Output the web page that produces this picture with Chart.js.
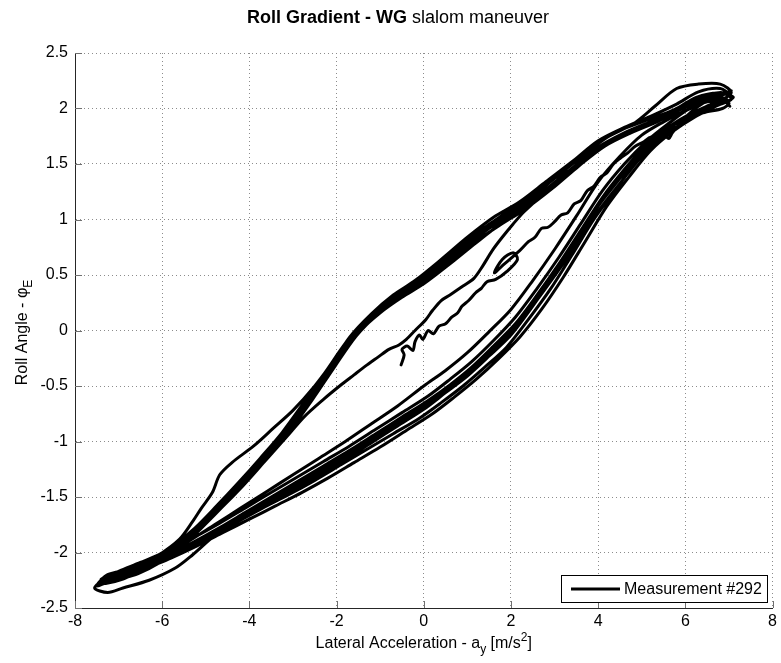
<!DOCTYPE html>
<html>
<head>
<meta charset="utf-8">
<title>Roll Gradient - WG slalom maneuver</title>
<script src="https://cdn.jsdelivr.net/npm/chart.js@4.4.1/dist/chart.umd.min.js"></script>
<style>
  html, body { margin: 0; padding: 0; background: #fff; }
  #wrap { width: 781px; height: 663px; }
</style>
</head>
<body>
<div id="wrap"><canvas id="rollChart" width="781" height="663"></canvas></div>
<script>
// ============================================
// Roll gradient plot — lateral acceleration vs roll angle
// ============================================

const FONT = '"Liberation Sans", Arial, Helvetica, sans-serif';

// ---------- Axis ticks ----------
const xTicks = [-8, -6, -4, -2, 0, 2, 4, 6, 8];
const yTicks = [-2.5, -2, -1.5, -1, -0.5, 0, 0.5, 1, 1.5, 2, 2.5];

const seriesLabel = 'Measurement #292';

// ---------- Measurement trace, [a_y, phi] ----------
// run-in from standstill, wiggly climb to the first right-hand peak
const runIn = [
  [-0.52, -0.31], [-0.45, -0.22], [-0.5, -0.17], [-0.38, -0.14], [-0.25, -0.18], [-0.2, -0.1],
  [-0.1, -0.04], [-0.02, -0.08], [0.1, 0.0], [0.22, -0.03], [0.35, 0.04], [0.5, 0.06],
  [0.64, 0.12], [0.78, 0.16], [0.88, 0.22], [1.03, 0.27], [1.19, 0.34], [1.32, 0.38],
  [1.45, 0.44], [1.65, 0.46], [1.9, 0.53], [2.15, 0.64], [2.05, 0.7], [1.8, 0.64],
  [1.62, 0.52], [1.85, 0.6], [2.2, 0.72], [2.4, 0.8], [2.55, 0.84], [2.7, 0.92],
  [2.85, 0.93], [3.0, 0.98], [3.15, 1.04], [3.3, 1.06], [3.45, 1.14], [3.6, 1.17],
  [3.75, 1.26], [3.9, 1.3], [4.05, 1.38], [4.2, 1.42], [4.35, 1.5], [4.5, 1.55],
  [4.68, 1.6], [4.85, 1.66], [5.05, 1.7], [5.2, 1.74], [5.35, 1.7], [5.5, 1.76],
  [5.62, 1.73], [5.7, 1.78], [5.95, 1.9], [6.3, 2.02], [6.7, 2.1], [6.95, 2.08]
];

// slalom cycles: right peak -> left peak (lower branch) -> right peak (upper branch)
const cycle1 = [
  [6.5, 2.06], [6.0, 1.98], [5.5, 1.88], [5.0, 1.76], [4.5, 1.57], [4.0, 1.34], [3.5, 1.03],
  [3.0, 0.73], [2.5, 0.45], [2.0, 0.19], [1.5, -0.01], [1.0, -0.2], [0.5, -0.36], [0.0, -0.5],
  [-0.6, -0.68], [-1.2, -0.84], [-1.8, -1.0], [-2.4, -1.15], [-3.0, -1.3], [-3.6, -1.45],
  [-4.2, -1.6], [-4.8, -1.75], [-5.4, -1.9], [-6.0, -2.03], [-6.6, -2.13], [-7.1, -2.21],
  [-7.45, -2.29], [-7.2, -2.26], [-6.7, -2.19], [-6.2, -2.09], [-5.7, -1.95], [-5.2, -1.77],
  [-4.7, -1.6], [-4.2, -1.38], [-3.7, -1.16], [-3.2, -0.91], [-2.7, -0.64], [-2.2, -0.36],
  [-1.7, -0.06], [-1.2, 0.15], [-0.7, 0.32], [-0.2, 0.45], [0.4, 0.64], [1.0, 0.84],
  [1.6, 1.02], [2.2, 1.16], [2.8, 1.34], [3.4, 1.52], [4.0, 1.71], [4.6, 1.83], [5.2, 1.93],
  [5.8, 2.04], [6.3, 2.15], [6.8, 2.18], [7.0, 2.12]
];

const cycle2 = [
  [6.6, 2.04], [6.1, 1.95], [5.6, 1.83], [5.1, 1.67], [4.6, 1.45], [4.1, 1.2], [3.6, 0.9],
  [3.1, 0.6], [2.6, 0.32], [2.1, 0.06], [1.6, -0.14], [1.1, -0.33], [0.6, -0.49], [0.1, -0.63],
  [-0.5, -0.78], [-1.1, -0.93], [-1.7, -1.08], [-2.3, -1.22], [-2.9, -1.36], [-3.5, -1.5],
  [-4.1, -1.64], [-4.7, -1.78], [-5.3, -1.91], [-5.9, -2.03], [-6.5, -2.13], [-7.0, -2.2],
  [-7.35, -2.27], [-7.0, -2.22], [-6.5, -2.16], [-6.0, -2.06], [-5.5, -1.91], [-5.0, -1.73],
  [-4.5, -1.54], [-4.0, -1.33], [-3.5, -1.1], [-3.0, -0.85], [-2.5, -0.58], [-2.0, -0.29],
  [-1.5, -0.02], [-1.0, 0.16], [-0.5, 0.3], [0.0, 0.42], [0.6, 0.6], [1.2, 0.79],
  [1.8, 0.97], [2.4, 1.12], [3.0, 1.3], [3.6, 1.5], [4.2, 1.68], [4.8, 1.8], [5.4, 1.9],
  [6.0, 2.02], [6.5, 2.12], [6.9, 2.14], [7.05, 2.08]
];

const cycle3 = [
  [6.5, 2.0], [6.0, 1.92], [5.5, 1.78], [5.0, 1.61], [4.5, 1.37], [4.0, 1.12], [3.5, 0.8],
  [3.0, 0.5], [2.5, 0.22], [2.0, -0.04], [1.5, -0.23], [1.0, -0.41], [0.5, -0.56], [0.0, -0.71],
  [-0.6, -0.86], [-1.2, -1.01], [-1.8, -1.16], [-2.4, -1.3], [-3.0, -1.43], [-3.6, -1.56],
  [-4.2, -1.7], [-4.8, -1.85], [-5.3, -2.02], [-5.7, -2.14], [-6.3, -2.25], [-6.9, -2.32],
  [-7.25, -2.36], [-7.55, -2.32], [-7.3, -2.24], [-6.8, -2.2], [-6.3, -2.12], [-5.8, -1.99],
  [-5.3, -1.82], [-4.8, -1.63], [-4.3, -1.43], [-3.8, -1.21], [-3.3, -0.98], [-2.8, -0.72],
  [-2.3, -0.44], [-1.8, -0.15], [-1.3, 0.07], [-0.8, 0.24], [-0.3, 0.36], [0.3, 0.53],
  [0.9, 0.74], [1.5, 0.92], [2.1, 1.07], [2.7, 1.24], [3.3, 1.43], [3.9, 1.62], [4.5, 1.76],
  [5.1, 1.86], [5.7, 1.96], [6.2, 2.06], [6.7, 2.1], [7.0, 2.05]
];

const cycle4 = [
  [6.85, 2.0], [6.4, 1.96], [5.9, 1.86], [5.4, 1.72], [4.9, 1.53], [4.4, 1.27], [3.9, 1.0],
  [3.4, 0.68], [2.9, 0.37], [2.4, 0.1], [1.9, -0.15], [1.4, -0.33], [0.9, -0.5], [0.4, -0.65],
  [-0.1, -0.79], [-0.7, -0.93], [-1.3, -1.07], [-1.9, -1.21], [-2.5, -1.35], [-3.1, -1.48],
  [-3.7, -1.6], [-4.3, -1.73], [-4.9, -1.86], [-5.5, -1.98], [-6.1, -2.09], [-6.7, -2.19],
  [-7.2, -2.26], [-7.5, -2.3], [-7.25, -2.2], [-6.75, -2.15], [-6.25, -2.06], [-5.75, -1.94],
  [-5.25, -1.78], [-4.75, -1.58], [-4.25, -1.37], [-3.75, -1.15], [-3.25, -0.92], [-2.75, -0.65],
  [-2.25, -0.37], [-1.75, -0.09], [-1.25, 0.13], [-0.75, 0.29], [-0.25, 0.41], [0.35, 0.59],
  [0.95, 0.8], [1.55, 0.97], [2.15, 1.13], [2.75, 1.31], [3.35, 1.5], [3.95, 1.69], [4.55, 1.81],
  [5.15, 1.9], [5.75, 1.99], [6.25, 2.1], [6.75, 2.14], [7.1, 2.1]
];

const cycle5 = [
  [6.7, 2.02], [6.2, 1.92], [5.7, 1.79], [5.2, 1.62], [4.7, 1.38], [4.2, 1.12], [3.7, 0.8],
  [3.2, 0.48], [2.7, 0.19], [2.2, -0.06], [1.7, -0.26], [1.2, -0.44], [0.7, -0.6], [0.2, -0.75],
  [-0.4, -0.9], [-1.0, -1.05], [-1.6, -1.19], [-2.2, -1.33], [-2.8, -1.46], [-3.4, -1.58],
  [-4.0, -1.7], [-4.6, -1.82], [-5.2, -1.94], [-5.8, -2.05], [-6.4, -2.15], [-6.9, -2.24],
  [-7.3, -2.28], [-7.05, -2.25], [-6.55, -2.19], [-6.05, -2.09], [-5.55, -1.95], [-5.05, -1.76],
  [-4.55, -1.56], [-4.05, -1.35], [-3.55, -1.13], [-3.05, -0.89], [-2.55, -0.62], [-2.05, -0.33],
  [-1.55, -0.05], [-1.05, 0.15], [-0.55, 0.3], [-0.05, 0.42], [0.55, 0.6], [1.15, 0.79],
  [1.75, 0.95], [2.35, 1.1], [2.95, 1.28], [3.55, 1.48], [4.15, 1.66], [4.75, 1.78], [5.35, 1.88],
  [5.95, 2.0], [6.45, 2.08], [6.85, 2.12], [7.05, 2.16]
];

const cycle6 = [
  [6.6, 2.08], [6.1, 2.0], [5.6, 1.86], [5.1, 1.7], [4.6, 1.5], [4.1, 1.26], [3.6, 0.96],
  [3.1, 0.66], [2.6, 0.38], [2.1, 0.12], [1.6, -0.09], [1.1, -0.28], [0.6, -0.44], [0.1, -0.59],
  [-0.5, -0.74], [-1.1, -0.89], [-1.7, -1.04], [-2.3, -1.18], [-2.9, -1.32], [-3.5, -1.46],
  [-4.1, -1.6], [-4.7, -1.74], [-5.3, -1.87], [-5.9, -1.99], [-6.5, -2.09], [-7.0, -2.17],
  [-7.4, -2.24], [-7.1, -2.2], [-6.6, -2.14], [-6.1, -2.03], [-5.6, -1.88], [-5.3, -1.72],
  [-5.1, -1.6], [-4.85, -1.46], [-4.68, -1.3], [-4.4, -1.19], [-3.9, -1.04], [-3.45, -0.88],
  [-3.0, -0.72], [-2.5, -0.5], [-2.0, -0.24], [-1.5, 0.02], [-1.0, 0.2], [-0.5, 0.34],
  [0.0, 0.46], [0.6, 0.66], [1.2, 0.86], [1.8, 1.02], [2.4, 1.18], [3.0, 1.37], [3.6, 1.56],
  [4.2, 1.74], [4.8, 1.86], [5.3, 2.02], [5.8, 2.18], [6.3, 2.22], [6.8, 2.22], [7.05, 2.14]
];

// last cycle peels off the upper branch and ends back in the middle
const cycle7 = [
  [6.5, 2.0], [6.05, 1.9], [5.55, 1.75], [5.05, 1.59], [4.55, 1.35], [4.05, 1.1], [3.55, 0.8],
  [3.05, 0.52], [2.55, 0.25], [2.05, 0.0], [1.55, -0.18], [1.05, -0.36], [0.55, -0.52], [0.05, -0.67],
  [-0.55, -0.82], [-1.15, -0.97], [-1.75, -1.12], [-2.35, -1.26], [-2.95, -1.4], [-3.55, -1.53],
  [-4.15, -1.66], [-4.75, -1.8], [-5.35, -1.93], [-5.95, -2.04], [-6.55, -2.14], [-7.05, -2.22],
  [-7.4, -2.27], [-7.15, -2.23], [-6.65, -2.18], [-6.15, -2.08], [-5.65, -1.95], [-5.15, -1.78],
  [-4.65, -1.6], [-4.15, -1.4], [-3.65, -1.18], [-3.15, -0.96], [-2.75, -0.78], [-2.3, -0.62],
  [-1.93, -0.5], [-1.6, -0.4], [-1.3, -0.31], [-1.05, -0.24], [-0.8, -0.17], [-0.57, -0.13],
  [-0.4, -0.08], [-0.2, 0.0], [0.05, 0.1], [0.2, 0.18], [0.4, 0.27], [0.6, 0.32], [0.9, 0.4],
  [1.15, 0.47], [1.35, 0.58], [1.57, 0.72], [1.8, 0.84], [2.05, 0.96], [2.3, 1.07], [2.8, 1.25],
  [3.4, 1.45], [4.0, 1.65], [4.6, 1.78], [5.2, 1.88], [5.8, 1.98], [6.3, 2.08], [6.75, 2.12],
  [7.02, 2.02]
];

const trace = [...runIn, ...cycle1, ...cycle2, ...cycle3, ...cycle4, ...cycle5, ...cycle6, ...cycle7];

// ---------- Figure decorations (title, axis labels, legend, inward ticks) ----------
function drawParts(ctx, parts, x, y) {
  // parts: [text, font, dy]
  let cx = x;
  parts.forEach(([text, font, dy]) => {
    ctx.font = font;
    ctx.fillText(text, cx, y + dy);
    cx += ctx.measureText(text).width;
  });
}

function partsWidth(ctx, parts) {
  return parts.reduce((w, [text, font]) => { ctx.font = font; return w + ctx.measureText(text).width; }, 0);
}

const figureText = {
  id: 'figureText',
  afterDraw(chart) {
    const { ctx, chartArea: a, scales: { x, y } } = chart;
    ctx.save();

    // inward tick marks on the left and bottom axes
    ctx.strokeStyle = '#707070';
    ctx.lineWidth = 1;
    ctx.beginPath();
    xTicks.forEach(v => {
      const px = Math.round(x.getPixelForValue(v)) + 0.5;
      ctx.moveTo(px, a.bottom);
      ctx.lineTo(px, a.bottom - 7);
    });
    yTicks.forEach(v => {
      const py = Math.round(y.getPixelForValue(v)) + 0.5;
      ctx.moveTo(a.left, py);
      ctx.lineTo(a.left + 7, py);
    });
    ctx.stroke();

    ctx.fillStyle = '#000';
    ctx.textAlign = 'left';
    ctx.textBaseline = 'alphabetic';

    // title: bold lead-in, regular remainder
    const titleParts = [
      ['Roll Gradient - WG ', 'bold 18px ' + FONT, 0],
      ['slalom maneuver', '18px ' + FONT, 0]
    ];
    drawParts(ctx, titleParts, 398 - partsWidth(ctx, titleParts) / 2, 23);

    // x axis label with subscript / superscript
    const xParts = [
      ['Lateral Acceleration - a', '16px ' + FONT, 0],
      ['y', '12px ' + FONT, 5],
      [' [m/s', '16px ' + FONT, 0],
      ['2', '12px ' + FONT, -7],
      [']', '16px ' + FONT, 0]
    ];
    drawParts(ctx, xParts, (a.left + a.right) / 2 - partsWidth(ctx, xParts) / 2, 648);

    // y axis label, rotated
    const yParts = [
      ['Roll Angle - \u03c6', '16px ' + FONT, 0],
      ['E', '12px ' + FONT, 5]
    ];
    ctx.translate(27, (a.top + a.bottom) / 2 + 2);
    ctx.rotate(-Math.PI / 2);
    drawParts(ctx, yParts, -partsWidth(ctx, yParts) / 2, 0);
    ctx.setTransform(1, 0, 0, 1, 0, 0);

    // legend box, bottom right inside the axes
    const lw = 206, lh = 27;
    const lx = Math.round(a.right) - 6 - lw, ly = Math.round(a.bottom) - 6 - lh;
    ctx.fillStyle = '#fff';
    ctx.fillRect(lx, ly, lw, lh);
    ctx.strokeStyle = '#000';
    ctx.lineWidth = 1;
    ctx.strokeRect(lx + 0.5, ly + 0.5, lw, lh);
    ctx.lineWidth = 3;
    ctx.beginPath();
    ctx.moveTo(lx + 10, ly + lh / 2 + 0.5);
    ctx.lineTo(lx + 59, ly + lh / 2 + 0.5);
    ctx.stroke();
    ctx.fillStyle = '#000';
    ctx.font = '16px ' + FONT;
    ctx.textBaseline = 'middle';
    ctx.fillText(seriesLabel, lx + 63, ly + lh / 2 + 1);

    ctx.restore();
  }
};

// ---------- Chart ----------
const gridStyle = { color: '#8c8c8c', drawTicks: false, lineWidth: 1 };
const borderStyle = { display: true, color: '#262626', width: 1, dash: [1, 3] };

new Chart(document.getElementById('rollChart').getContext('2d'), {
  type: 'scatter',
  data: {
    datasets: [{
      label: seriesLabel,
      data: trace.map(([ax, phi]) => ({ x: ax, y: phi })),
      showLine: true,
      borderColor: '#000',
      borderWidth: 3,
      tension: 0.3,
      borderJoinStyle: 'round',
      borderCapStyle: 'round',
      pointRadius: 0,
      pointHoverRadius: 0
    }]
  },
  options: {
    responsive: false,
    animation: false,
    devicePixelRatio: 1,
    layout: { padding: { top: 53, right: 5, left: 0, bottom: 0 }, autoPadding: false },
    plugins: {
      legend: { display: false },
      title: { display: false },
      tooltip: { enabled: false }
    },
    scales: {
      x: {
        type: 'linear',
        min: -8,
        max: 8,
        afterBuildTicks: s => { s.ticks = xTicks.map(v => ({ value: v })); },
        afterFit: s => { s.height = 55; },
        ticks: { color: '#000', padding: 4, maxRotation: 0, font: { family: FONT, size: 16 }, callback: v => String(v) },
        grid: gridStyle,
        border: borderStyle
      },
      y: {
        type: 'linear',
        min: -2.5,
        max: 2.5,
        afterBuildTicks: s => { s.ticks = yTicks.map(v => ({ value: v })); },
        afterFit: s => { s.width = 75; },
        ticks: { color: '#000', padding: 7, font: { family: FONT, size: 16 }, callback: v => String(v) },
        grid: gridStyle,
        border: borderStyle
      }
    }
  },
  plugins: [figureText]
});
</script>
</body>
</html>
